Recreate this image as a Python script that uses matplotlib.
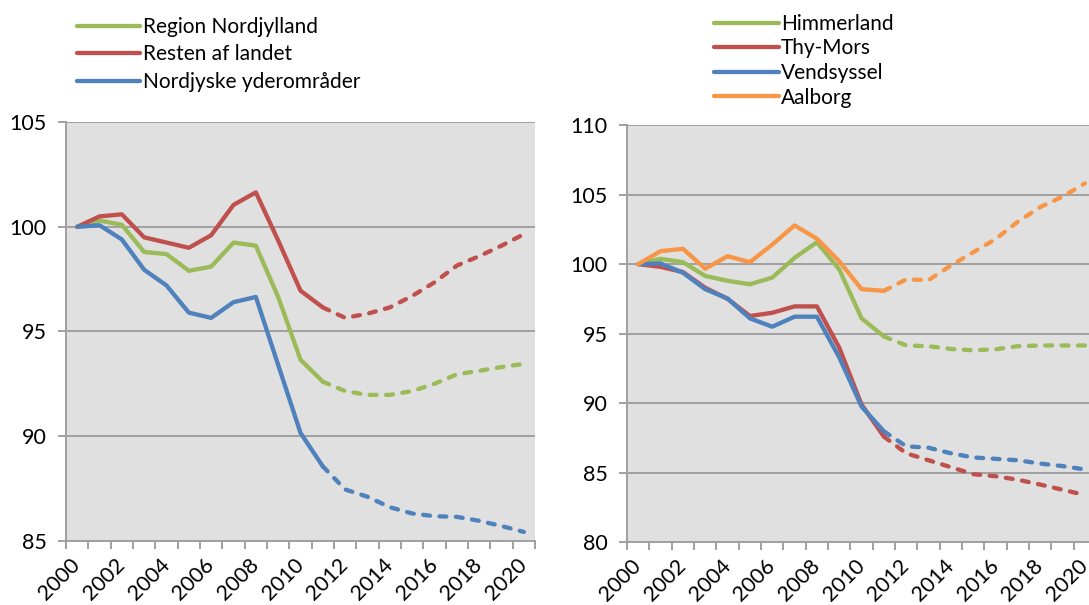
import numpy as np
import matplotlib
matplotlib.use('Agg')
import matplotlib.pyplot as plt

plt.rcParams['font.family'] = ['Lato', 'DejaVu Sans']

years = list(range(2000, 2021))
year_labels = [str(y) for y in years[::2]]

# left chart
nordjylland = [100, 100.3, 100.1, 98.8, 98.7, 97.9, 98.1, 99.25, 99.1, 96.65, 93.65,
               92.6, 92.15, 91.97, 91.97, 92.15, 92.5, 92.95, 93.12, 93.3, 93.45]
resten = [100, 100.5, 100.6, 99.5, 99.25, 99.0, 99.6, 101.05, 101.65, 99.35, 96.95,
          96.15, 95.65, 95.85, 96.15, 96.7, 97.35, 98.15, 98.6, 99.1, 99.65]
yderomraader = [100, 100.08, 99.4, 97.95, 97.2, 95.9, 95.65, 96.4, 96.65, 93.4, 90.15,
                88.55, 87.45, 87.1, 86.6, 86.3, 86.17, 86.14, 85.95, 85.7, 85.42]

# right chart
himmerland = [100, 100.38, 100.14, 99.15, 98.8, 98.55, 99.03, 100.45, 101.57, 99.62, 96.1,
              94.8, 94.15, 94.1, 93.9, 93.8, 93.88, 94.1, 94.15, 94.15, 94.15]
thymors = [100, 99.8, 99.43, 98.3, 97.5, 96.27, 96.5, 96.96, 96.96, 94.0, 89.9,
           87.6, 86.4, 85.9, 85.4, 84.9, 84.75, 84.5, 84.15, 83.78, 83.4]
vendsyssel = [100, 100.05, 99.38, 98.2, 97.53, 96.1, 95.5, 96.22, 96.22, 93.3, 89.76,
              87.98, 86.9, 86.8, 86.4, 86.1, 86.0, 85.9, 85.66, 85.48, 85.24]
aalborg = [100, 100.93, 101.1, 99.67, 100.57, 100.14, 101.4, 102.78, 101.83, 100.2, 98.2,
           98.08, 98.9, 98.85, 99.9, 100.85, 101.8, 103.05, 104.1, 104.85, 105.8]

left_series = [('Region Nordjylland', nordjylland, '#9BBB59'),
               ('Resten af landet', resten, '#C0504D'),
               ('Nordjyske yderområder', yderomraader, '#4F81BD')]
right_series = [('Himmerland', himmerland, '#9BBB59'),
                ('Thy-Mors', thymors, '#C0504D'),
                ('Vendsyssel', vendsyssel, '#4F81BD'),
                ('Aalborg', aalborg, '#F79646')]

split = 11  # last observed year index (2011), projection after
lw = 3.1
fs = 15.5

fig = plt.figure(figsize=(10.89, 6.05), dpi=100)
ax1 = fig.add_axes([0.0606, 0.1063, 0.4307, 0.6916])
ax2 = fig.add_axes([0.5758, 0.1036, 0.4307, 0.6898])


def draw(ax, series, ylim, yticks):
    x = np.arange(len(years))
    handles = []
    for name, vals, col in series:
        v = np.array(vals)
        h, = ax.plot(x[:split + 1], v[:split + 1], color=col, lw=lw,
                     solid_capstyle='round', solid_joinstyle='round')
        ax.plot(x[split:], v[split:], color=col, lw=lw, dashes=(1.6, 2.2),
                dash_capstyle='round', dash_joinstyle='round')
        handles.append(h)
    ax.set_facecolor('#e0e0e0')
    ax.set_xlim(-0.5, len(years) - 0.5)
    ax.set_ylim(*ylim)
    ax.set_yticks(yticks)
    ax.grid(axis='y', color='#a0a0a0', lw=1.4)
    ax.set_axisbelow(True)
    for s in ['top', 'right']:
        ax.spines[s].set_visible(False)
    for s in ['left', 'bottom']:
        ax.spines[s].set_color('#a0a0a0')
        ax.spines[s].set_linewidth(1.4)
    ax.set_xticks(np.arange(-0.5, len(years), 1))
    ax.set_xticklabels([])
    ax.set_xticks(x[::2], minor=True)
    ax.set_xticklabels(year_labels, minor=True, rotation=45, ha='right', va='center',
                       rotation_mode='anchor', fontsize=fs)
    ax.tick_params(axis='x', which='major', length=6, width=1.4, color='#a0a0a0')
    ax.tick_params(axis='x', which='minor', length=0, pad=15)
    ax.tick_params(axis='y', length=6, width=1.4, color='#a0a0a0', pad=8, labelsize=fs)
    return handles


h1 = draw(ax1, left_series, (85, 105), [85, 90, 95, 100, 105])
h2 = draw(ax2, right_series, (80, 110), [80, 85, 90, 95, 100, 105, 110])

ax1.legend(h1, [s[0] for s in left_series], loc='upper left',
           bbox_to_anchor=(0.071, 0.972), bbox_transform=fig.transFigure,
           frameon=False, fontsize=15, handlelength=3.0, handletextpad=0.15,
           labelspacing=0.36, borderpad=0, borderaxespad=0)
ax2.legend(h2, [s[0] for s in right_series], loc='upper left',
           bbox_to_anchor=(0.656, 0.977), bbox_transform=fig.transFigure,
           frameon=False, fontsize=15, handlelength=3.1, handletextpad=0.08,
           labelspacing=0.22, borderpad=0, borderaxespad=0)

fig.savefig('out.png', dpi=100)
